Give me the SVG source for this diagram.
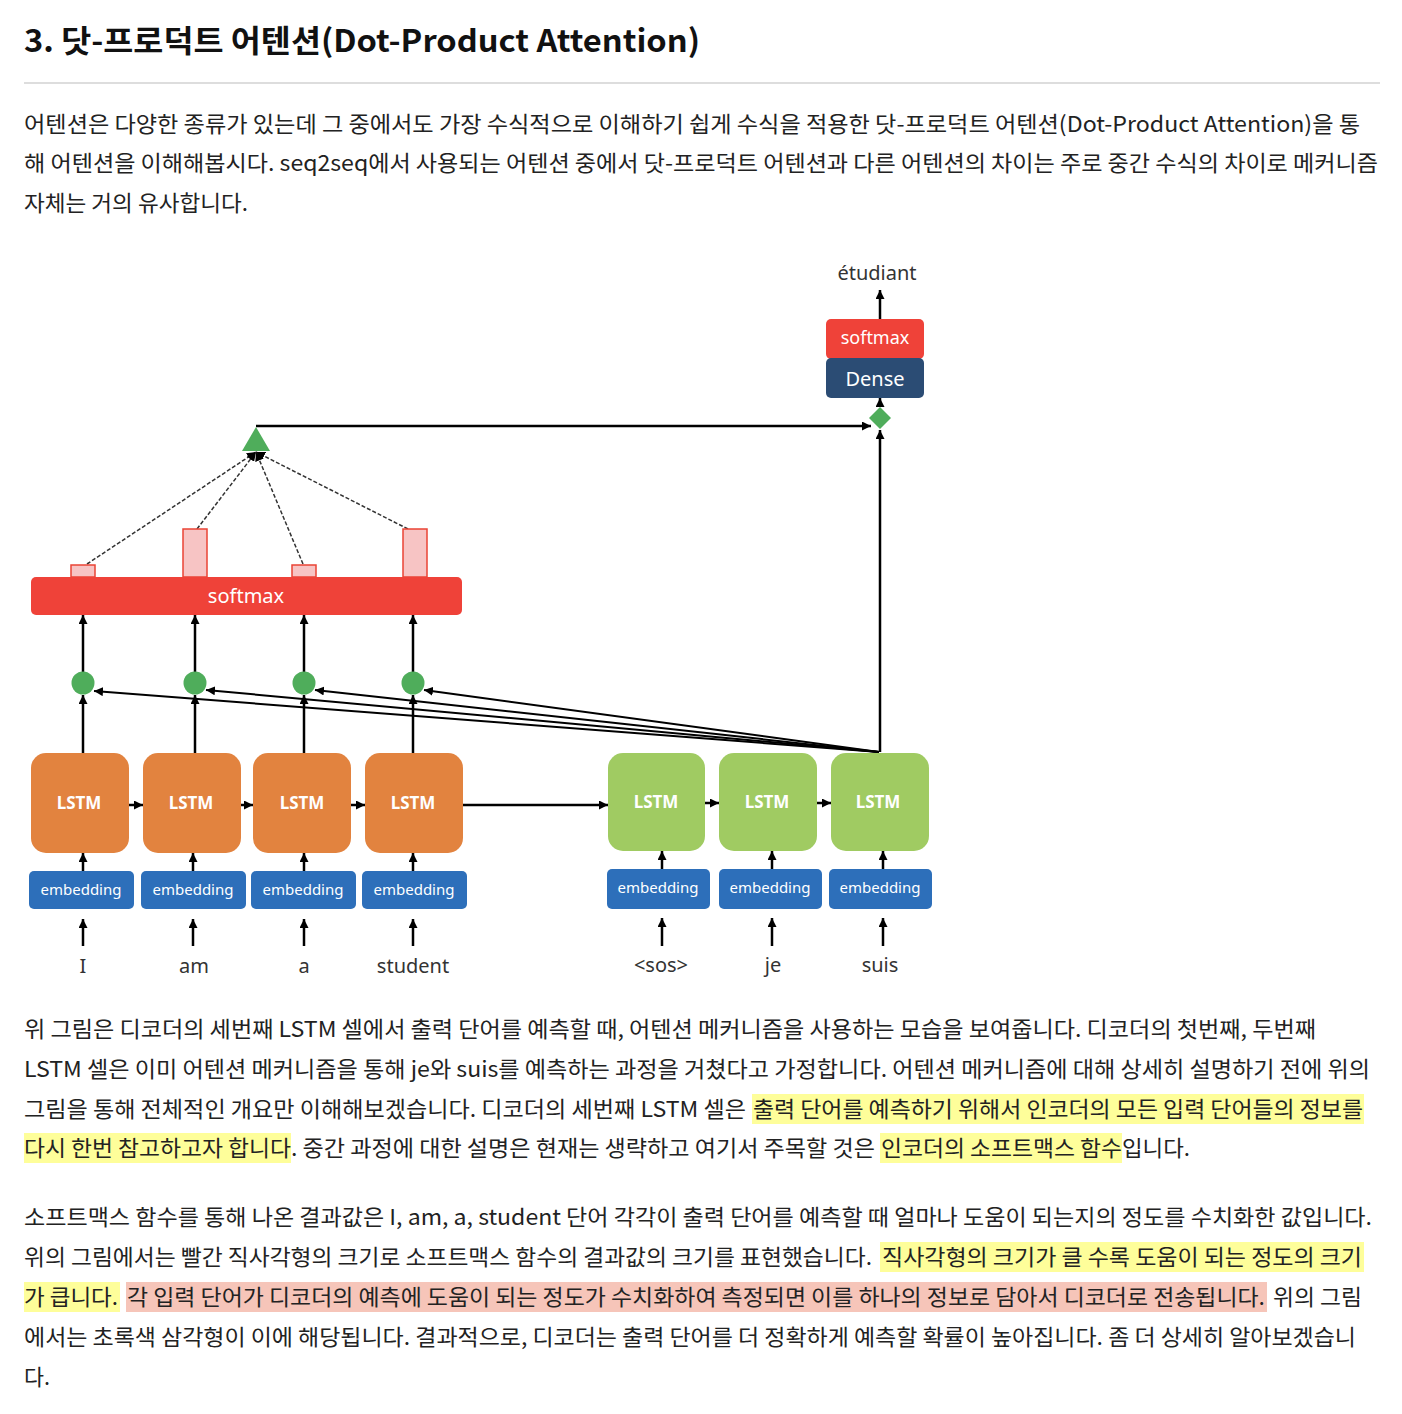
<svg xmlns="http://www.w3.org/2000/svg" width="1402" height="1414" viewBox="0 0 1402 1414">
<defs>
<marker id="ah" viewBox="0 0 10 10" refX="10" refY="5" markerWidth="9" markerHeight="9" markerUnits="userSpaceOnUse" orient="auto">
<path d="M0,0 L10,5 L0,10 z" fill="#000"/>
</marker>
<style>
.p{font-family:"Noto Sans CJK KR","Noto Sans",sans-serif;font-size:22px;fill:#222}
.t{font-family:"Noto Sans CJK KR","Noto Sans",sans-serif;font-size:31px;font-weight:bold;fill:#111}
.hy{fill:#fefe9a}
.hp{fill:#f6c5b9}
.ln{stroke:#000;stroke-width:2.5;fill:none}
.lt{stroke:#000;stroke-width:2;fill:none}
.ds{stroke:#333;stroke-width:1.5;stroke-dasharray:4 2;fill:none}
.enc{fill:#e2833f}
.dec{fill:#a0cb62}
.emb{fill:#2d6fba}
.lbl{font-family:"Noto Sans","Open Sans",sans-serif;font-size:17px;font-weight:bold;fill:#fff;text-anchor:middle}
.el{font-family:"Noto Sans","Open Sans",sans-serif;font-size:15px;fill:#fff;text-anchor:middle}
.w{font-family:"Noto Sans","Open Sans",sans-serif;font-size:20px;fill:#333;text-anchor:middle}
.g{fill:#4fad5b}
.bar{fill:#f7c4c4;stroke:#ea4335;stroke-width:1.5}
</style>
</defs>
<rect width="1402" height="1414" fill="#fff"/>

<g id="title">
<text class="t" x="24" y="52" textLength="676" lengthAdjust="spacingAndGlyphs">3. 닷-프로덕트 어텐션(Dot-Product Attention)</text>
<rect x="24" y="82" width="1356" height="2" fill="#ddd"/>
</g>

<g id="para1">
<text class="p" x="24" y="132" textLength="1336" lengthAdjust="spacingAndGlyphs">어텐션은 다양한 종류가 있는데 그 중에서도 가장 수식적으로 이해하기 쉽게 수식을 적용한 닷-프로덕트 어텐션(Dot-Product Attention)을 통</text>
<text class="p" x="24" y="171" textLength="1354" lengthAdjust="spacingAndGlyphs">해 어텐션을 이해해봅시다. seq2seq에서 사용되는 어텐션 중에서 닷-프로덕트 어텐션과 다른 어텐션의 차이는 주로 중간 수식의 차이로 메커니즘</text>
<text class="p" x="24" y="211" textLength="224" lengthAdjust="spacingAndGlyphs">자체는 거의 유사합니다.</text>
</g>

<g id="connectors">
<line class="ln" x1="880" y1="319" x2="880" y2="290" marker-end="url(#ah)"/>
<line class="ln" x1="880" y1="407" x2="880" y2="398" marker-end="url(#ah)"/>
<line class="ln" x1="880" y1="752" x2="880" y2="430" marker-end="url(#ah)"/>
<line class="ln" x1="256" y1="426" x2="871" y2="426" marker-end="url(#ah)"/>
<line class="ds" x1="87" y1="564" x2="256" y2="452" marker-end="url(#ah)"/>
<line class="ds" x1="197" y1="529" x2="256" y2="452" marker-end="url(#ah)"/>
<line class="ds" x1="303" y1="564" x2="256" y2="452" marker-end="url(#ah)"/>
<line class="ds" x1="408" y1="529" x2="256" y2="452" marker-end="url(#ah)"/>
<line class="ln" x1="83" y1="672" x2="83" y2="615" marker-end="url(#ah)"/>
<line class="ln" x1="195" y1="672" x2="195" y2="615" marker-end="url(#ah)"/>
<line class="ln" x1="304" y1="672" x2="304" y2="615" marker-end="url(#ah)"/>
<line class="ln" x1="413" y1="672" x2="413" y2="615" marker-end="url(#ah)"/>
<line class="ln" x1="83" y1="753" x2="83" y2="695" marker-end="url(#ah)"/>
<line class="ln" x1="195" y1="753" x2="195" y2="695" marker-end="url(#ah)"/>
<line class="ln" x1="304" y1="753" x2="304" y2="695" marker-end="url(#ah)"/>
<line class="ln" x1="413" y1="753" x2="413" y2="695" marker-end="url(#ah)"/>
<line class="lt" x1="879" y1="752" x2="94" y2="691" marker-end="url(#ah)"/>
<line class="lt" x1="879" y1="752" x2="206" y2="690" marker-end="url(#ah)"/>
<line class="lt" x1="879" y1="752" x2="315" y2="690" marker-end="url(#ah)"/>
<line class="lt" x1="879" y1="752" x2="424" y2="690" marker-end="url(#ah)"/>
<line class="ln" x1="129" y1="805" x2="143" y2="805" marker-end="url(#ah)"/>
<line class="ln" x1="241" y1="805" x2="253" y2="805" marker-end="url(#ah)"/>
<line class="ln" x1="351" y1="805" x2="365" y2="805" marker-end="url(#ah)"/>
<line class="ln" x1="463" y1="805" x2="608" y2="805" marker-end="url(#ah)"/>
<line class="ln" x1="705" y1="803" x2="719" y2="803" marker-end="url(#ah)"/>
<line class="ln" x1="817" y1="803" x2="831" y2="803" marker-end="url(#ah)"/>
<line class="ln" x1="83" y1="871" x2="83" y2="853" marker-end="url(#ah)"/>
<line class="ln" x1="193" y1="871" x2="193" y2="853" marker-end="url(#ah)"/>
<line class="ln" x1="304" y1="871" x2="304" y2="853" marker-end="url(#ah)"/>
<line class="ln" x1="413" y1="871" x2="413" y2="853" marker-end="url(#ah)"/>
<line class="ln" x1="662" y1="869" x2="662" y2="851" marker-end="url(#ah)"/>
<line class="ln" x1="772" y1="869" x2="772" y2="851" marker-end="url(#ah)"/>
<line class="ln" x1="883" y1="869" x2="883" y2="851" marker-end="url(#ah)"/>
<line class="ln" x1="83" y1="946" x2="83" y2="919" marker-end="url(#ah)"/>
<line class="ln" x1="193" y1="946" x2="193" y2="919" marker-end="url(#ah)"/>
<line class="ln" x1="304" y1="946" x2="304" y2="919" marker-end="url(#ah)"/>
<line class="ln" x1="413" y1="946" x2="413" y2="919" marker-end="url(#ah)"/>
<line class="ln" x1="662" y1="946" x2="662" y2="918" marker-end="url(#ah)"/>
<line class="ln" x1="772" y1="946" x2="772" y2="918" marker-end="url(#ah)"/>
<line class="ln" x1="883" y1="946" x2="883" y2="918" marker-end="url(#ah)"/>
</g>

<g id="out-word"><text class="w" x="877" y="280">étudiant</text></g>
<g id="out-softmax"><rect x="826" y="319" width="98" height="40" rx="5" fill="#ef4239"/><text class="el" x="875" y="344" style="font-size:18px">softmax</text></g>
<g id="dense"><rect x="826" y="358" width="98" height="40" rx="5" fill="#2b4c74"/><text class="el" x="875" y="386" style="font-size:20px">Dense</text></g>
<g id="concat"><path class="g" d="M880,407 L891,418 L880,429 L869,418 z"/></g>
<g id="context"><path class="g" d="M256,427 L270,451 L242,451 z"/></g>

<g id="attn-bars">
<rect class="bar" x="71" y="565" width="24" height="12"/>
<rect class="bar" x="183" y="529" width="24" height="48"/>
<rect class="bar" x="292" y="565" width="24" height="12"/>
<rect class="bar" x="403" y="529" width="24" height="48"/>
</g>
<g id="softmax"><rect x="31" y="577" width="431" height="38" rx="5" fill="#ef4239"/><text class="el" x="246" y="603" style="font-size:20px">softmax</text></g>

<g id="scores">
<circle class="g" cx="83" cy="683" r="11.5"/>
<circle class="g" cx="195" cy="683" r="11.5"/>
<circle class="g" cx="304" cy="683" r="11.5"/>
<circle class="g" cx="413" cy="683" r="11.5"/>
</g>

<g id="enc-lstm1"><rect class="enc" x="31" y="753" width="98" height="100" rx="15"/><text class="lbl" x="79" y="809">LSTM</text></g>
<g id="enc-lstm2"><rect class="enc" x="143" y="753" width="98" height="100" rx="15"/><text class="lbl" x="191" y="809">LSTM</text></g>
<g id="enc-lstm3"><rect class="enc" x="253" y="753" width="98" height="100" rx="15"/><text class="lbl" x="302" y="809">LSTM</text></g>
<g id="enc-lstm4"><rect class="enc" x="365" y="753" width="98" height="100" rx="15"/><text class="lbl" x="413" y="809">LSTM</text></g>
<g id="dec-lstm1"><rect class="dec" x="608" y="753" width="97" height="98" rx="15"/><text class="lbl" x="656" y="808">LSTM</text></g>
<g id="dec-lstm2"><rect class="dec" x="719" y="753" width="98" height="98" rx="15"/><text class="lbl" x="767" y="808">LSTM</text></g>
<g id="dec-lstm3"><rect class="dec" x="831" y="753" width="98" height="98" rx="15"/><text class="lbl" x="878" y="808">LSTM</text></g>

<g id="enc-emb1"><rect class="emb" x="29" y="871" width="105" height="38" rx="5"/><text class="el" x="81" y="895">embedding</text></g>
<g id="enc-emb2"><rect class="emb" x="141" y="871" width="105" height="38" rx="5"/><text class="el" x="193" y="895">embedding</text></g>
<g id="enc-emb3"><rect class="emb" x="251" y="871" width="105" height="38" rx="5"/><text class="el" x="303" y="895">embedding</text></g>
<g id="enc-emb4"><rect class="emb" x="362" y="871" width="105" height="38" rx="5"/><text class="el" x="414" y="895">embedding</text></g>
<g id="dec-emb1"><rect class="emb" x="607" y="869" width="103" height="40" rx="5"/><text class="el" x="658" y="893">embedding</text></g>
<g id="dec-emb2"><rect class="emb" x="719" y="869" width="103" height="40" rx="5"/><text class="el" x="770" y="893">embedding</text></g>
<g id="dec-emb3"><rect class="emb" x="829" y="869" width="103" height="40" rx="5"/><text class="el" x="880" y="893">embedding</text></g>

<g id="words">
<text class="w" x="83" y="973">I</text>
<text class="w" x="194" y="973">am</text>
<text class="w" x="304" y="973">a</text>
<text class="w" x="413" y="973">student</text>
<text class="w" x="661" y="972">&lt;sos&gt;</text>
<text class="w" x="773" y="972">je</text>
<text class="w" x="880" y="972">suis</text>
</g>

<g id="para2">
<rect class="hy" x="752" y="1094" width="612" height="30"/>
<rect class="hy" x="24" y="1133" width="267" height="30"/>
<rect class="hy" x="880" y="1133" width="242" height="30"/>
<text class="p" x="24" y="1037" textLength="1292" lengthAdjust="spacingAndGlyphs">위 그림은 디코더의 세번째 LSTM 셀에서 출력 단어를 예측할 때, 어텐션 메커니즘을 사용하는 모습을 보여줍니다. 디코더의 첫번째, 두번째</text>
<text class="p" x="24" y="1077" textLength="1346" lengthAdjust="spacingAndGlyphs">LSTM 셀은 이미 어텐션 메커니즘을 통해 je와 suis를 예측하는 과정을 거쳤다고 가정합니다. 어텐션 메커니즘에 대해 상세히 설명하기 전에 위의</text>
<text class="p" x="24" y="1117" textLength="722" lengthAdjust="spacingAndGlyphs">그림을 통해 전체적인 개요만 이해해보겠습니다. 디코더의 세번째 LSTM 셀은</text>
<text class="p" x="753" y="1117" textLength="610" lengthAdjust="spacingAndGlyphs">출력 단어를 예측하기 위해서 인코더의 모든 입력 단어들의 정보를</text>
<text class="p" x="24" y="1156" textLength="267" lengthAdjust="spacingAndGlyphs">다시 한번 참고하고자 합니다</text>
<text class="p" x="291" y="1156" textLength="584" lengthAdjust="spacingAndGlyphs">. 중간 과정에 대한 설명은 현재는 생략하고 여기서 주목할 것은</text>
<text class="p" x="881" y="1156" textLength="241" lengthAdjust="spacingAndGlyphs">인코더의 소프트맥스 함수</text>
<text class="p" x="1122" y="1156" textLength="68" lengthAdjust="spacingAndGlyphs">입니다.</text>
</g>

<g id="para3">
<rect class="hy" x="880" y="1242" width="484" height="30"/>
<rect class="hy" x="24" y="1282" width="96" height="30"/>
<rect class="hp" x="126" y="1282" width="1141" height="30"/>
<text class="p" x="24" y="1225" textLength="1348" lengthAdjust="spacingAndGlyphs">소프트맥스 함수를 통해 나온 결과값은 I, am, a, student 단어 각각이 출력 단어를 예측할 때 얼마나 도움이 되는지의 정도를 수치화한 값입니다.</text>
<text class="p" x="24" y="1265" textLength="848" lengthAdjust="spacingAndGlyphs">위의 그림에서는 빨간 직사각형의 크기로 소프트맥스 함수의 결과값의 크기를 표현했습니다.</text>
<text class="p" x="882" y="1265" textLength="480" lengthAdjust="spacingAndGlyphs">직사각형의 크기가 클 수록 도움이 되는 정도의 크기</text>
<text class="p" x="24" y="1305" textLength="94" lengthAdjust="spacingAndGlyphs">가 큽니다.</text>
<text class="p" x="127" y="1305" textLength="1138" lengthAdjust="spacingAndGlyphs">각 입력 단어가 디코더의 예측에 도움이 되는 정도가 수치화하여 측정되면 이를 하나의 정보로 담아서 디코더로 전송됩니다.</text>
<text class="p" x="1273" y="1305" textLength="89" lengthAdjust="spacingAndGlyphs">위의 그림</text>
<text class="p" x="24" y="1345" textLength="1332" lengthAdjust="spacingAndGlyphs">에서는 초록색 삼각형이 이에 해당됩니다. 결과적으로, 디코더는 출력 단어를 더 정확하게 예측할 확률이 높아집니다. 좀 더 상세히 알아보겠습니</text>
<text class="p" x="24" y="1385" textLength="26" lengthAdjust="spacingAndGlyphs">다.</text>
</g>
</svg>
